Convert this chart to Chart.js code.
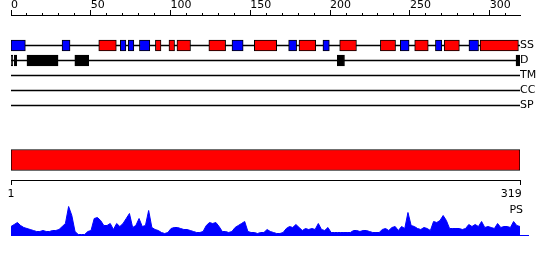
<!DOCTYPE html>
<html lang="en">
<head>
<meta charset="UTF-8">
<title>Protein feature map</title>
<style>
  body { margin: 0; background: #fff; }
  .wrap { position: relative; width: 550px; height: 260px; }
  .wrap canvas { position: absolute; left: 0; top: 0; }
</style>
<script src="https://cdn.jsdelivr.net/npm/chart.js"></script>
</head>
<body>
<div class="wrap">
  <canvas id="axisCanvas" width="550" height="260"></canvas>
  <canvas id="trackCanvas" width="550" height="260"></canvas>
  <canvas id="barCanvas" width="550" height="260"></canvas>
  <canvas id="psCanvas" width="550" height="260"></canvas>
</div>
<script>
// sequence and ticks
const seqLength = 319;
const majorTicks = [0, 50, 100, 150, 200, 250, 300];
const minorTicks = [0, 10, 20, 30, 40, 50, 60, 70, 80, 90, 100, 110, 120, 130, 140, 150,
                    160, 170, 180, 190, 200, 210, 220, 230, 240, 250, 260, 270, 280, 290, 300, 310];
const rulerTicks = [1, 319];
const tracks = ['SS', 'D', 'TM', 'CC', 'SP'];

// secondary structure segments (H = helix, E = strand)
const ssStart = [0, 32, 55, 68.5, 73.5, 80.5, 90.5, 99, 104, 124, 138.5, 152.5,
                 174, 180.5, 195.5, 206, 231.5, 244, 253, 266, 271.5, 287, 294];
const ssEnd   = [9, 37, 66, 72, 77, 87, 94, 102.5, 112.5, 134.5, 145.5, 166.5,
                 179, 191, 199.5, 216.5, 241, 249.5, 261.5, 270, 281, 293, 318];
const ssType  = ['E', 'E', 'H', 'E', 'E', 'E', 'H', 'H', 'H', 'H', 'E', 'H',
                 'E', 'H', 'E', 'H', 'H', 'E', 'H', 'E', 'H', 'E', 'H'];

// disordered regions
const dStart = [0, 2, 10, 40, 204.5, 316.5];
const dEnd   = [1.1, 3.6, 29.5, 48.7, 209, 319];

// domain bar
const domainStart = 1;
const domainEnd = 319;

// PS profile, every second residue starting at 1
const psStep = 2;
const psValues = [
  9, 11, 13, 10, 8, 7, 6, 5, 4, 4, 5, 4, 4, 5, 5, 6, 9, 12, 29, 20,
  4, 1, 1, 1, 4, 5, 17, 18, 15, 10, 10, 12, 6, 12, 9, 12, 17, 22, 8, 10,
  17, 9, 10, 25, 8, 6, 5, 3, 2, 3, 7, 8, 8, 7, 6, 6, 5, 4, 3, 3,
  4, 10, 13, 12, 13, 9, 4, 4, 3, 4, 8, 10, 12, 14, 4, 3, 3, 2, 3, 3,
  6, 4, 3, 2, 2, 3, 7, 9, 8, 11, 8, 5, 7, 6, 7, 6, 12, 6, 5, 8,
  3, 3, 3, 3, 3, 3, 3, 5, 5, 4, 5, 5, 4, 3, 3, 3, 6, 7, 5, 8,
  9, 5, 9, 7, 23, 10, 9, 7, 6, 8, 7, 5, 14, 13, 15, 20, 15, 7, 7, 7,
  7, 6, 7, 11, 9, 11, 9, 14, 8, 9, 8, 7, 12, 8, 9, 9, 8, 14, 10, 9
];

const RED = '#ff0000';
const BLUE = '#0000ff';

Chart.defaults.font.family = 'DejaVu Sans';
Chart.defaults.font.size = 11;
Chart.defaults.color = '#000';
Chart.defaults.animation = false;
Chart.defaults.responsive = false;
Chart.defaults.events = [];
Chart.defaults.plugins.legend.display = false;
Chart.defaults.plugins.tooltip.enabled = false;

const toTicks = arr => arr.map(v => ({ value: v }));

// top ruler: minor ticks are grid lines in a 2px tall chart area, major ticks come from the top axis
new Chart(document.getElementById('axisCanvas'), {
  type: 'line',
  data: { datasets: [] },
  options: {
    layout: { padding: { left: 11, right: 30, top: 0, bottom: 245 } },
    scales: {
      x: {
        type: 'linear', position: 'bottom', min: 0, max: seqLength,
        afterBuildTicks: s => { s.ticks = toTicks(minorTicks); },
        afterFit: s => { s.height = 0; },
        ticks: { display: false },
        grid: { drawOnChartArea: true, drawTicks: false, color: '#000', lineWidth: 1 },
        border: { display: true, color: '#000', width: 1 }
      },
      x2: {
        type: 'linear', position: 'top', min: 0, max: seqLength,
        afterBuildTicks: s => { s.ticks = toTicks(majorTicks); },
        afterFit: s => { s.height = 13; },
        ticks: { align: 'start', padding: -2, maxRotation: 0, autoSkip: false },
        grid: { drawOnChartArea: false, drawTicks: true, tickLength: 3, color: '#000' },
        border: { display: false }
      },
      y: { display: false }
    }
  }
});

// feature tracks
const trackLines = tracks.map(t => ({ y: t, x: [0, seqLength] }));
const ssData = ssStart.map((s, i) => ({ y: 'SS', x: [s, ssEnd[i]] }));
const dData = dStart.map((s, i) => ({ y: 'D', x: [s, dEnd[i]] }));

new Chart(document.getElementById('trackCanvas'), {
  type: 'bar',
  data: {
    labels: tracks,
    datasets: [
      { data: trackLines, backgroundColor: '#000', borderWidth: 0, barThickness: 1, order: 2 },
      { data: ssData, backgroundColor: ssType.map(t => t === 'H' ? RED : BLUE),
        borderColor: '#000', borderWidth: 1, borderSkipped: false, barThickness: 11, order: 0 },
      { data: dData, backgroundColor: '#000', borderColor: '#000', borderWidth: 1,
        borderSkipped: false, barThickness: 11, order: 1 }
    ]
  },
  options: {
    indexAxis: 'y',
    grouped: false,
    layout: { padding: { left: 11, right: 0, top: 38, bottom: 147 } },
    scales: {
      x: { type: 'linear', min: 0, max: seqLength, display: false },
      y: {
        type: 'category', position: 'right', offset: true,
        afterFit: s => { s.width = 30; },
        ticks: { padding: 0, autoSkip: false },
        grid: { display: false, drawTicks: false },
        border: { display: false }
      }
    }
  }
});

// domain bar with 1..319 ruler
new Chart(document.getElementById('barCanvas'), {
  type: 'bar',
  data: {
    labels: ['domain'],
    datasets: [{
      data: [[domainStart, domainEnd]],
      backgroundColor: RED, borderColor: '#000', borderWidth: 1,
      borderSkipped: false, barThickness: 21
    }]
  },
  options: {
    indexAxis: 'y',
    layout: { padding: { left: 11, right: 30, top: 140, bottom: 60 } },
    scales: {
      x: {
        type: 'linear', min: domainStart, max: domainEnd,
        afterBuildTicks: s => { s.ticks = toTicks(rulerTicks); },
        afterFit: s => { s.height = 20; },
        ticks: {
          padding: 3, maxRotation: 0, autoSkip: false,
          callback: v => v === seqLength ? v + '     ' : String(v)
        },
        grid: { drawOnChartArea: false, drawTicks: true, tickLength: 5, color: '#000' },
        border: { display: true, color: '#000', width: 1 }
      },
      y: { display: false, offset: true }
    }
  }
});

// PS profile
const psData = psValues.map((v, i) => ({ x: 1 + i * psStep, y: v }));

new Chart(document.getElementById('psCanvas'), {
  type: 'line',
  data: {
    datasets: [{
      data: psData, borderColor: BLUE, backgroundColor: BLUE, borderWidth: 1,
      pointRadius: 0, fill: 'origin', tension: 0
    }]
  },
  options: {
    layout: { padding: { left: 11, right: 0, top: 205.5, bottom: 24.5 } },
    scales: {
      x: {
        type: 'linear', min: 1, max: 324,
        afterFit: s => { s.height = 0; },
        ticks: { display: false },
        grid: { display: false, drawTicks: false },
        border: { display: true, color: BLUE, width: 1 }
      },
      y: { type: 'linear', min: 0, max: 30, display: false },
      lab: {
        type: 'category', position: 'right', labels: ['PS', '', ''], offset: true,
        afterFit: s => { s.width = 22; },
        ticks: { mirror: true, padding: -5, autoSkip: false },
        grid: { display: false, drawTicks: false },
        border: { display: false }
      }
    }
  }
});
</script>
</body>
</html>
